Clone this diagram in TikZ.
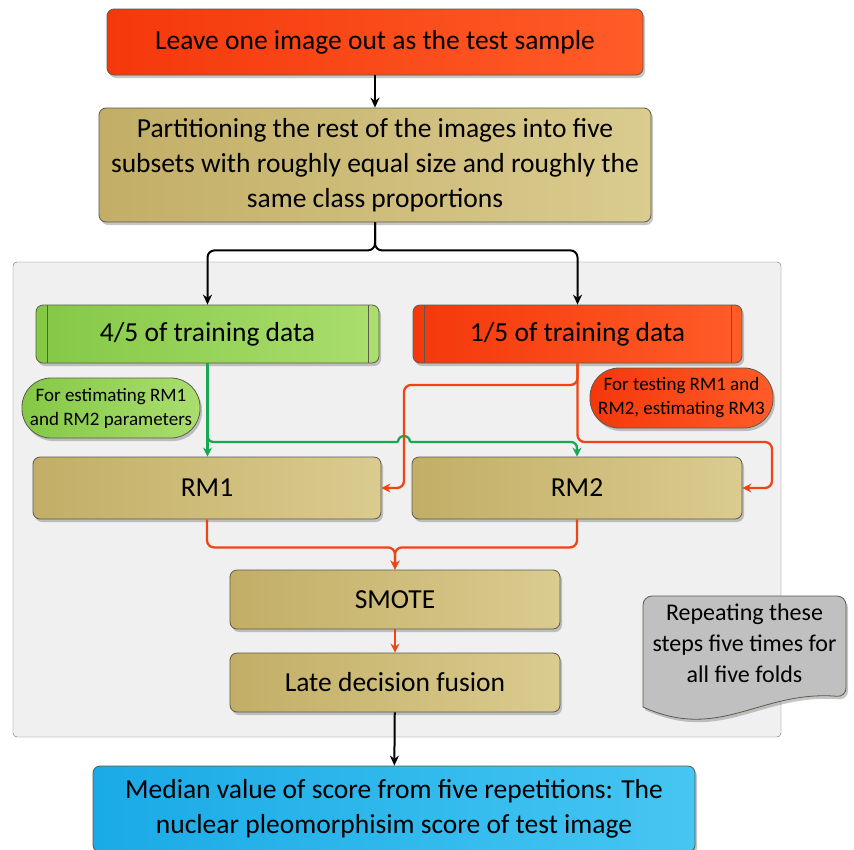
\documentclass[tikz,border=0pt]{standalone}
\usepackage{fontspec}
\setmainfont{Carlito}
\usetikzlibrary{arrows.meta, positioning, shadows, calc}

\definecolor{BoxRed}{RGB}{245,56,12}
\definecolor{BoxRedL}{RGB}{255,92,40}
\definecolor{BoxTan}{RGB}{194,174,102}
\definecolor{BoxTanL}{RGB}{218,203,143}
\definecolor{BoxGreen}{RGB}{132,200,70}
\definecolor{BoxGreenL}{RGB}{170,222,110}
\definecolor{BoxBlue}{RGB}{26,170,230}
\definecolor{BoxBlueL}{RGB}{70,198,242}
\definecolor{NoteGray}{RGB}{192,192,192}
\definecolor{PanelGray}{RGB}{240,240,240}
\definecolor{LineRed}{RGB}{240,68,20}
\definecolor{LineGreen}{RGB}{22,168,82}
\definecolor{Edge}{RGB}{92,90,74}

\tikzset{
  box/.style={draw=Edge, line width=0.8pt, rounded corners=7pt, align=center, inner sep=0pt,
    font=\fontsize{27.5}{35}\selectfont,
    drop shadow={shadow xshift=2pt, shadow yshift=-3pt, opacity=0.45}},
  redbox/.style={box, left color=BoxRed, right color=BoxRedL},
  tanbox/.style={box, left color=BoxTan, right color=BoxTanL},
  bluebox/.style={box, left color=BoxBlue, right color=BoxBlueL},
  procbox/.style={path picture={
      \draw[Edge, line width=0.6pt] ([xshift=11pt]path picture bounding box.north west) -- ([xshift=11pt]path picture bounding box.south west);
      \draw[Edge, line width=0.6pt] ([xshift=-11pt]path picture bounding box.north east) -- ([xshift=-11pt]path picture bounding box.south east);}},
  note/.style={draw=Edge, line width=0.8pt, rounded corners=29pt, align=center, inner sep=0pt,
    font=\fontsize{19}{24}\selectfont,
    drop shadow={shadow xshift=2pt, shadow yshift=-3pt, opacity=0.45}},
  blkline/.style={line width=2pt, -{Stealth[length=10pt, width=9pt]}, rounded corners=7pt},
  redline/.style={LineRed, line width=2.3pt, -{Stealth[length=9pt, width=9pt]}, rounded corners=7pt},
  grnline/.style={LineGreen, line width=2.3pt, -{Stealth[length=9pt, width=9pt]}, rounded corners=6pt},
}

\begin{document}
\begin{tikzpicture}[x=1pt, y=-1pt]
  \useasboundingbox (0,0) rectangle (854,849);

  % Panel for the five folds
  \draw[draw=gray!85!black, fill=PanelGray, rounded corners=4pt] (13,262) rectangle (781,737);

  % Top steps
  \node[redbox, minimum width=536pt, minimum height=66pt] (leave) at (375,42) {Leave one image out as the test sample};
  \node[tanbox, minimum width=552pt, minimum height=114pt] (part) at (375,165)
    {Partitioning the rest of the images into five\\ subsets with roughly equal size and roughly the\\ same class proportions};

  % Training data split
  \node[box, procbox, left color=BoxGreen, right color=BoxGreenL, minimum width=343pt, minimum height=58pt] (train45) at (207.5,334) {4/5 of training data};
  \node[redbox, procbox, minimum width=329pt, minimum height=58pt] (train15) at (577.5,334) {1/5 of training data};

  % Notes
  \node[note, left color=BoxGreen, right color=BoxGreenL, minimum width=178pt, minimum height=60pt] (note45) at (111,408) {For estimating RM1\\ and RM2 parameters};
  \node[note, left color=BoxRed, right color=BoxRedL, minimum width=183pt, minimum height=60pt] (note15) at (681.5,398) {For testing RM1 and\\ RM2, estimating RM3};

  % Models
  \node[tanbox, minimum width=348pt, minimum height=62pt] (rm1) at (207,488) {RM1};
  \node[tanbox, minimum width=330pt, minimum height=62pt] (rm2) at (577,488) {RM2};
  \node[tanbox, minimum width=330pt, minimum height=59pt] (smote) at (395,599.5) {SMOTE};
  \node[tanbox, minimum width=330pt, minimum height=59pt] (fusion) at (395,682.5) {Late decision fusion};

  % Result
  \node[bluebox, minimum width=602pt, minimum height=86pt] (median) at (394,809)
    {Median value of score from five repetitions: The\\ nuclear pleomorphisim score of test image};

  % Repeat note (document shape)
  \draw[draw=Edge, line width=0.8pt, fill=NoteGray, drop shadow={shadow xshift=2pt, shadow yshift=-3pt, opacity=0.45}]
    [rounded corners=9pt] (643,707) -- (643,596) -- (846,596) -- (846,697)
    [sharp corners] .. controls (760,690) and (720,742) .. (643,707) -- cycle;
  \node[align=center, font=\fontsize{24}{31}\selectfont] (repeat) at (744.5,643) {Repeating these\\ steps five times for\\ all five folds};

  % Connectors
  \draw[blkline] (leave) -- (part);
  \draw[blkline] (part.south) -- ++(0,28) -| (train45.north);
  \draw[blkline] (part.south) -- ++(0,28) -| (train15.north);

  \draw[grnline] (train45.south) -- (train45.south |- rm1.north);
  \draw[LineGreen, line width=2.3pt, rounded corners=6pt] (train45.south) |- (398,442);
  \draw[LineGreen, line width=2.3pt] (398,442) arc[start angle=180, end angle=360, radius=6];
  \draw[grnline] (410,442) -| (rm2.north);

  \draw[redline] (train15.south) |- (404,385) |- (rm1.east);
  \draw[redline] (train15.south) |- (772,442) |- (rm2.east);

  \draw[redline] (rm1.south) -- ++(0,28) -| (smote.north);
  \draw[redline] (rm2.south) -- ++(0,28) -| (smote.north);
  \draw[redline] (smote) -- (fusion);
  \draw[blkline] (fusion) -- (median);
\end{tikzpicture}
\end{document}
